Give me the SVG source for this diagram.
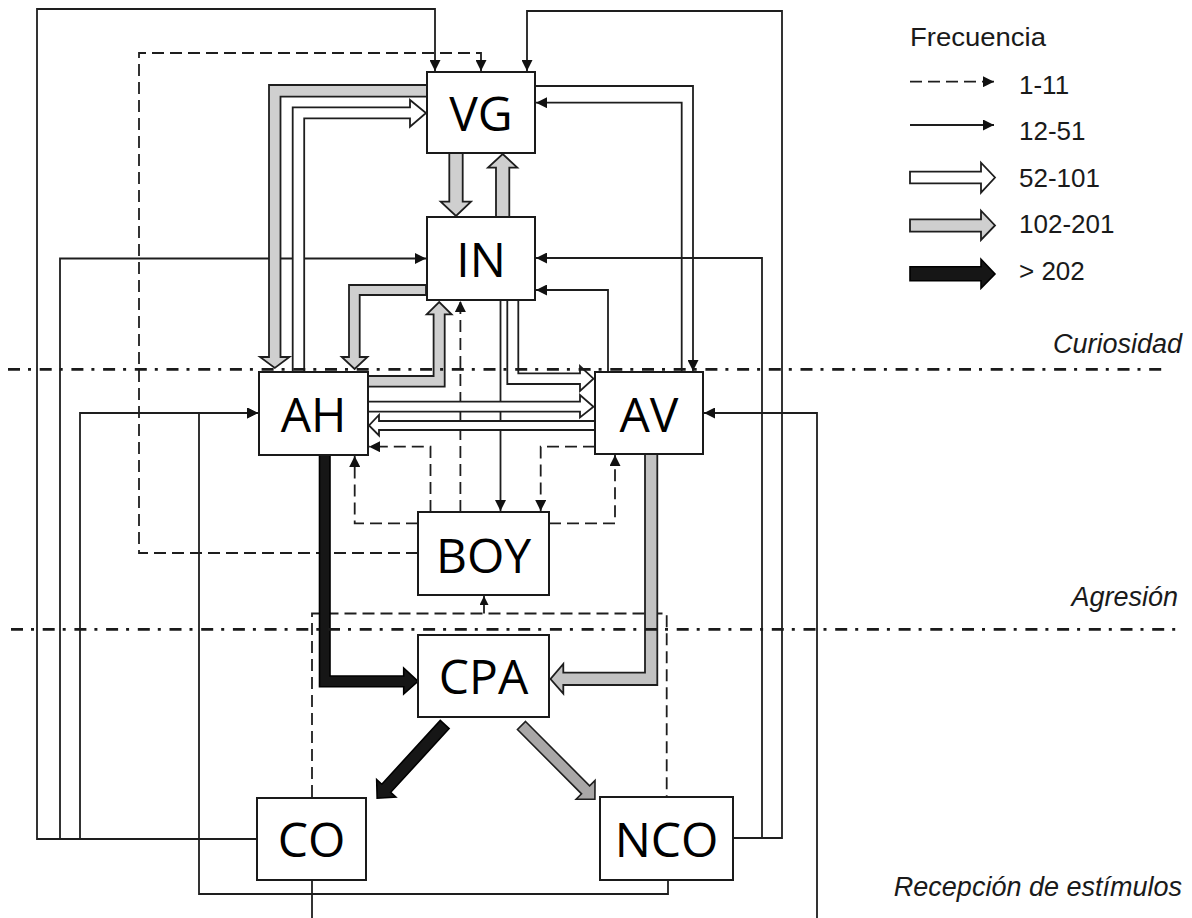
<svg xmlns="http://www.w3.org/2000/svg" width="1192" height="918" viewBox="0 0 1192 918">
<style>
.box{fill:#fff;stroke:#1a1a1a;stroke-width:2}
.lbl{font-family:"Open Sans","Noto Sans",sans-serif;font-size:48px;fill:#000;text-anchor:middle}
.ln{fill:none;stroke:#1e1e1e;stroke-width:1.8}
.dash{fill:none;stroke:#1e1e1e;stroke-width:1.8;stroke-dasharray:12 6}
.wht{fill:#fff;stroke:#1e1e1e;stroke-width:1.8;stroke-linejoin:miter}
.gry{fill:#cfcfcf;stroke:#1e1e1e;stroke-width:1.8}
.gry2{fill:#c2c2c2;stroke:#1e1e1e;stroke-width:1.8}
.gry3{fill:#a9a7a7;stroke:#1e1e1e;stroke-width:1.6}
.blk{fill:#161616;stroke:#000;stroke-width:1.6}
.dd{fill:none;stroke:#1a1a1a;stroke-width:2.8;stroke-dasharray:12 8 3 8.7}
.leg{font-family:"Liberation Sans",Arial,sans-serif;font-size:26px;fill:#1a1a1a}
.cat{font-family:"Liberation Sans",Arial,sans-serif;font-size:27px;font-style:italic;fill:#1a1a1a;text-anchor:end}
</style>
<defs>
<marker id="a" markerUnits="userSpaceOnUse" markerWidth="11" markerHeight="11" refX="11" refY="5.5" orient="auto"><path d="M0,0 L11,5.5 L0,11 z" fill="#111"/></marker>
<marker id="s" markerUnits="userSpaceOnUse" markerWidth="9" markerHeight="9" refX="9" refY="4.5" orient="auto"><path d="M0,0 L9,4.5 L0,9 z" fill="#111"/></marker>
</defs>

<g id="connectors">
<path class="ln" d="M257,839 H37 V9 H435 V71" marker-end="url(#a)"/>
<path class="ln" d="M257,839 H60 V258.5 H426" marker-end="url(#a)"/>
<path class="ln" d="M257,839 H80 V413 H258" marker-end="url(#a)"/>
<path class="ln" d="M668,880 V894 H199 V413 H258" marker-end="url(#a)"/>
<path class="ln" d="M733,838 H782 V11 H527 V71" marker-end="url(#a)"/>
<path class="ln" d="M733,838 H762 V258 H536" marker-end="url(#a)"/>
<path class="ln" d="M535,86 H693 V371" marker-end="url(#a)"/>
<path class="ln" d="M681.7,372 V102.7 H536" marker-end="url(#a)"/>
<path class="ln" d="M608,372 V290 H536" marker-end="url(#a)"/>
<path class="ln" d="M500.5,300 V511" marker-end="url(#a)"/>
<path class="ln" d="M817,918 V413 H704" marker-end="url(#a)"/>
<path class="ln" d="M312,880 V918"/>

<path class="dash" d="M418,553 H139 V53 H481 V71" marker-end="url(#a)"/>
<path class="dash" d="M460.4,512 V301" marker-end="url(#a)"/>
<path class="dash" d="M430.5,512 V446.7 H369" marker-end="url(#a)"/>
<path class="dash" d="M418,523.3 H354.7 V456" marker-end="url(#a)"/>
<path class="dash" d="M595,446.7 H540.7 V511" marker-end="url(#a)"/>
<path class="dash" d="M549,523.3 H615 V455" marker-end="url(#a)"/>
<path class="dash" d="M312,797 V613.5 H666.7 V797"/>
<path class="ln" d="M484,613.5 V596" marker-end="url(#s)"/>

<polygon class="gry" points="427,85 269,85 269,357 260,357 274.8,368 289.5,357 280.5,357 280.5,96.7 427,96.7"/>
<polygon class="wht" points="292.7,372 292.7,107.3 410,107.3 410,100 426,113 410,126.7 410,118.3 304.2,118.3 304.2,372"/>
<polygon class="gry" points="449.3,153 449.3,201.7 440.7,201.7 456,216 471,201.7 462.7,201.7 462.7,153"/>
<polygon class="gry" points="496,217 496,167.7 488,167.7 502.7,154 517.3,167.7 509.3,167.7 509.3,217"/>
<polygon class="gry" points="426,285 349,285 349,357 341.7,357 354.6,369 367.5,357 359.7,357 359.7,295 426,295"/>
<polygon class="gry" points="368,376 433.6,376 433.6,314.3 426.7,314.3 439.2,302 451.6,314.3 444.7,314.3 444.7,386.7 368,386.7"/>
<polygon class="wht" points="507.3,300 507.3,384 580,384 580,391 593.5,378.7 580,366 580,373.3 518.3,373.3 518.3,300"/>
<polygon class="wht" points="368,401.7 580,401.7 580,395 593.5,406.7 580,417.5 580,411.7 368,411.7"/>
<polygon class="wht" points="595,421 379,421 379,415 369,425.5 379,435.5 379,430 595,430"/>
<polygon class="gry2" points="645,454 645,672.7 563.3,672.7 563.3,664 550.5,679 563.3,693.5 563.3,685 657.3,685 657.3,454"/>
<polygon class="blk" points="319.5,455 319.5,686.7 403.7,686.7 403.7,694 418,681.3 403.7,668 403.7,676 330,676 330,455"/>
<polygon class="blk" transform="translate(444.7,724.5) rotate(132.5)" points="0,-6 86.5,-6 86.5,-13 100,0 86.5,13 86.5,6 0,6"/>
<polygon class="gry3" transform="translate(521.5,725.5) rotate(45.1)" points="0,-5.7 90.8,-5.7 90.8,-13.3 104,0 90.8,13.3 90.8,5.7 0,5.7"/>
</g>

<g id="levels">
<line class="dd" x1="8" y1="369.3" x2="1168" y2="369.3"/>
<line class="dd" x1="11" y1="629.3" x2="1181" y2="629.3"/>
<text class="cat" x="1182" y="353">Curiosidad</text>
<text class="cat" x="1178" y="606">Agresión</text>
<text class="cat" x="1182" y="896">Recepción de estímulos</text>
</g>

<g id="VG"><rect class="box" x="427" y="72" width="108" height="81"/><text class="lbl" x="481" y="130.5">VG</text></g>
<g id="IN"><rect class="box" x="427" y="217" width="108" height="83"/><text class="lbl" x="481" y="276.5">IN</text></g>
<g id="AH"><rect class="box" x="259" y="372" width="109" height="83"/><text class="lbl" x="313.5" y="431.5">AH</text></g>
<g id="AV"><rect class="box" x="595" y="372" width="108" height="82"/><text class="lbl" x="649" y="431.5">AV</text></g>
<g id="BOY"><rect class="box" x="418" y="512" width="131" height="83"/><text class="lbl" x="483.5" y="572.5">BOY</text></g>
<g id="CPA"><rect class="box" x="418" y="635" width="131" height="82"/><text class="lbl" x="483.5" y="694">CPA</text></g>
<g id="CO"><rect class="box" x="257" y="798" width="109" height="82"/><text class="lbl" x="311.5" y="856.5">CO</text></g>
<g id="NCO"><rect class="box" x="600" y="797" width="133" height="83"/><text class="lbl" x="666.5" y="856.5">NCO</text></g>

<g id="legend">
<text class="leg" x="910" y="46" textLength="136" lengthAdjust="spacingAndGlyphs">Frecuencia</text>
<path class="dash" d="M910,81.7 H994" marker-end="url(#a)"/>
<text class="leg" x="1019" y="94">1-11</text>
<path class="ln" d="M910,125 H994" marker-end="url(#a)"/>
<text class="leg" x="1019" y="140">12-51</text>
<polygon class="wht" points="910,171.7 981,171.7 981,162.7 995,177.5 981,192.7 981,183.3 910,183.3"/>
<text class="leg" x="1019" y="187">52-101</text>
<polygon class="gry" points="910,219.3 981,219.3 981,210.7 995,225.5 981,240 981,231.7 910,231.7"/>
<text class="leg" x="1019" y="233">102-201</text>
<polygon class="blk" points="910,266.7 981,266.7 981,259.3 995,274 981,288.3 981,280.7 910,280.7"/>
<text class="leg" x="1019" y="280">&gt; 202</text>
</g>
</svg>
